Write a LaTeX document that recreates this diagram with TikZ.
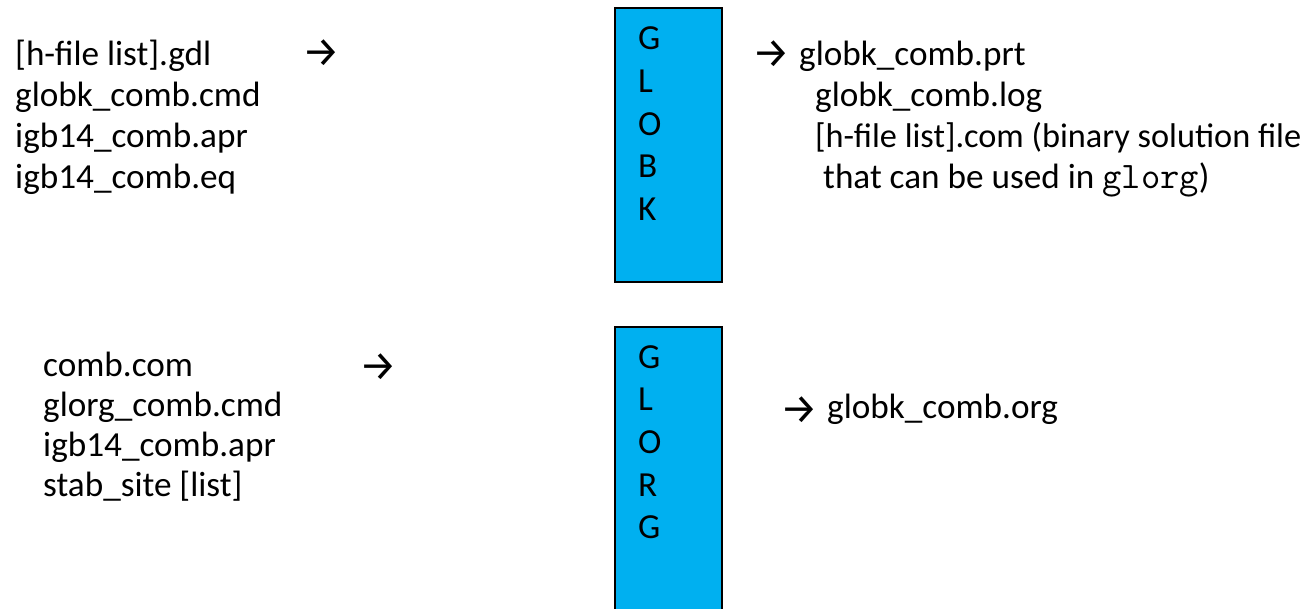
\documentclass[tikz,border=0pt]{standalone}
\usepackage{fontspec}
\setmainfont{Carlito}
\newfontfamily\arrowfont{Fira Sans}
\newfontfamily\codefont{Latin Modern Mono}
\definecolor{procblue}{RGB}{0,176,240}
\tikzset{
  txt/.style={anchor=base west, inner sep=0pt, font=\fontsize{35.2}{42}\selectfont},
  arr/.style={anchor=west, inner sep=0pt, font=\arrowfont\fontsize{42}{48}\selectfont},
  letter/.style={anchor=base west, inner sep=0pt, font=\fontsize{35.2}{42}\selectfont},
  procbox/.style={draw=black, line width=1.5pt, fill=procblue}
}
\newcommand{\codetxt}[1]{{\codefont\fontsize{37.5}{42}\selectfont #1}}
\begin{document}
\begin{tikzpicture}[x=1pt,y=-1pt]
\useasboundingbox (0,0) rectangle (1311,608);
% boxes
\draw[procbox] (615,8) rectangle (722,282);
\node[letter] (k1) at (638,49) {G};
\node[letter] (k2) at (638,92) {L};
\node[letter] (k3) at (638,135) {O};
\node[letter] (k4) at (638,177) {B};
\node[letter] (k5) at (638,220) {K};
\draw[procbox] (615,327) rectangle (722,630);
\node[letter] (r1) at (638,368) {G};
\node[letter] (r2) at (638,410) {L};
\node[letter] (r3) at (638,453) {O};
\node[letter] (r4) at (638,496) {R};
\node[letter] (r5) at (638,538) {G};
% top left inputs
\node[txt] (a1) at (15,65) {[h-file list].gdl};
\node[txt] (a2) at (15,106) {globk\_comb.cmd};
\node[txt] (a3) at (15,147) {igb14\_comb.apr};
\node[txt] (a4) at (15,188) {igb14\_comb.eq};
\node[arr] (aa) at (302,53) {→};
% top right outputs
\node[arr] (ba) at (752,54) {→};
\node[txt] (b1) at (799,65) {globk\_comb.prt};
\node[txt] (b2) at (815,106) {globk\_comb.log};
\node[txt, font=\fontsize{34.3}{42}\selectfont] (b3) at (815,147) {[h-file list].com (binary solution file};
\node[txt] (b4) at (823,188) {that can be used in \codetxt{glorg})};
% bottom left inputs
\node[txt] (c1) at (43,376) {comb.com};
\node[txt] (c2) at (43,416) {glorg\_comb.cmd};
\node[txt] (c3) at (43,456) {igb14\_comb.apr};
\node[txt] (c4) at (43,496) {stab\_site [list]};
\node[arr] (ca) at (359,367) {→};
% bottom right output
\node[arr] (da) at (780,410) {→};
\node[txt] (d1) at (827,418) {globk\_comb.org};
\end{tikzpicture}
\end{document}
